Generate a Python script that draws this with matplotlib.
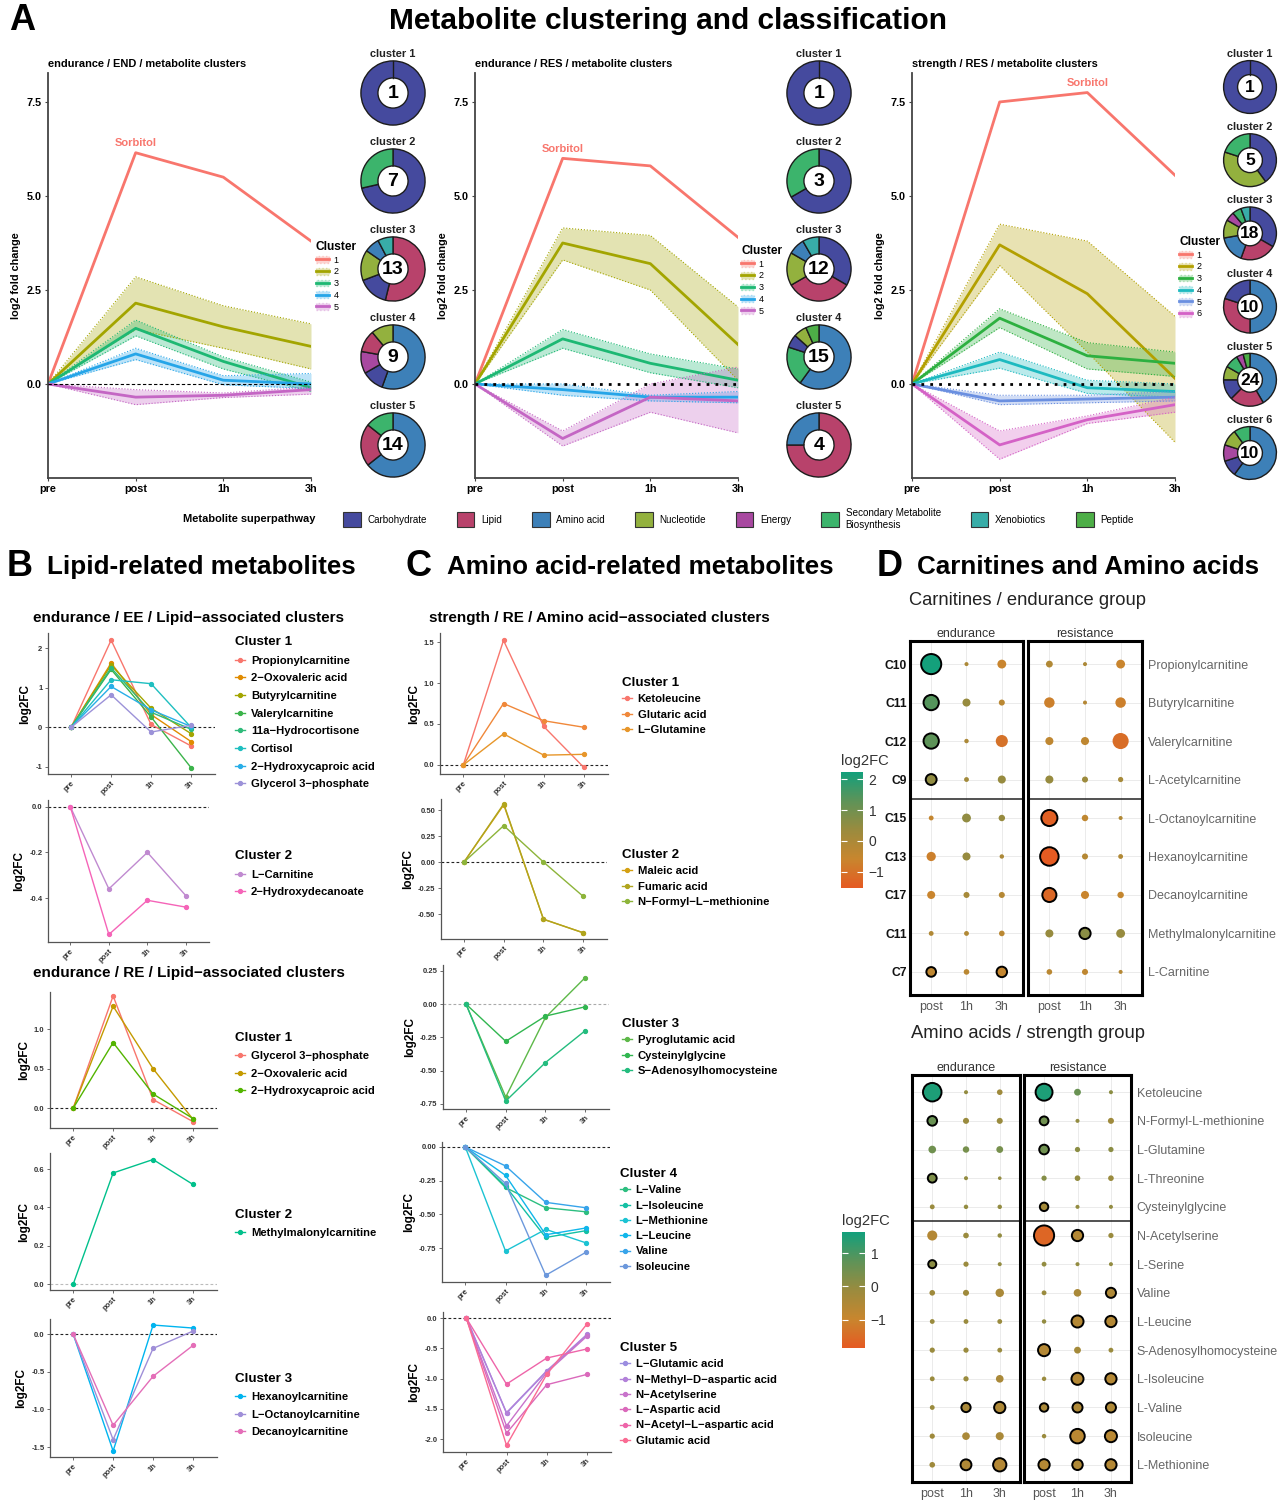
import matplotlib as mpl
from matplotlib import pyplot as plt
from matplotlib.patches import Patch
from matplotlib.lines import Line2D
from matplotlib.colors import LinearSegmentedColormap, Normalize
import numpy as np

plt.rcParams['font.family'] = ['Liberation Sans', 'DejaVu Sans']

# ---------------- data ----------------
times = ['pre', 'post', '1h', '3h']

# panel A: cluster means and ribbons (pre, post, 1h, 3h)
end_mean = [[0, 6.15, 5.5, 3.8], [0, 2.15, 1.52, 1.0], [0, 1.48, 0.6, -0.1],
            [0, 0.8, 0.1, 0.0], [0, -0.35, -0.3, -0.15]]
end_low = [None, [0, 1.45, 0.95, 0.4], [0, 1.28, 0.4, -0.2],
           [0, 0.65, -0.02, -0.12], [0, -0.55, -0.36, -0.27]]
end_high = [None, [0, 2.85, 2.08, 1.6], [0, 1.7, 0.72, 0.05],
            [0, 0.95, 0.22, 0.28], [0, -0.15, -0.24, -0.08]]

res_mean = [[0, 6.0, 5.8, 3.9], [0, 3.75, 3.2, 1.05], [0, 1.2, 0.55, 0.1],
            [0, -0.15, -0.35, -0.35], [0, -1.45, -0.35, -0.45]]
res_low = [None, [0, 3.3, 2.5, 0.1], [0, 0.95, 0.3, -0.1],
           [0, -0.3, -0.45, -0.5], [0, -1.65, -0.75, -1.3]]
res_high = [None, [0, 4.15, 3.95, 2.05], [0, 1.45, 0.8, 0.4],
            [0, 0.0, -0.3, -0.2], [0, -1.25, 0.0, 0.45]]

str_mean = [[0, 7.5, 7.75, 5.55], [0, 3.7, 2.4, 0.15], [0, 1.75, 0.75, 0.55],
            [0, 0.65, -0.1, -0.2], [0, -0.45, -0.4, -0.35], [0, -1.62, -0.95, -0.55]]
str_low = [None, [0, 3.15, 0.85, -1.55], [0, 1.5, 0.4, 0.2],
           [0, 0.42, -0.25, -0.35], [0, -0.55, -0.5, -0.45], [0, -2.0, -1.05, -0.75]]
str_high = [None, [0, 4.25, 3.8, 1.8], [0, 2.0, 1.1, 0.85],
            [0, 0.85, 0.1, 0.0], [0, -0.3, -0.3, -0.2], [0, -1.25, -0.85, -0.35]]

colors5 = ['#F8766D', '#A3A500', '#1DB873', '#26A5E8', '#C466C4']
colors6 = ['#F8766D', '#B3A000', '#2DB040', '#1DBAC0', '#6A8FE0', '#D462C6']

# superpathways
path_keys = ['carb', 'lipid', 'amino', 'nucl', 'energy', 'second', 'xeno', 'pept']
path_names = ['Carbohydrate', 'Lipid', 'Amino acid', 'Nucleotide', 'Energy',
              'Secondary Metabolite\nBiosynthesis', 'Xenobiotics', 'Peptide']
path_colors = ['#454A9E', '#B8426B', '#3D80B8', '#93B13E', '#A848A0',
               '#3CB46C', '#38ADA8', '#4DAE47']
path_color = dict(zip(path_keys, path_colors))

# donut composition per cluster (clockwise from 12 o'clock)
end_pies = [(['carb'], [1]),
            (['carb', 'second'], [5, 2]),
            (['lipid', 'carb', 'nucl', 'amino', 'xeno'], [7, 2, 2, 1, 1]),
            (['amino', 'carb', 'energy', 'lipid', 'nucl'], [5, 1, 1, 1, 1]),
            (['amino', 'lipid', 'second'], [9, 3, 2])]
res_pies = [(['carb'], [1]),
            (['carb', 'second'], [2, 1]),
            (['carb', 'lipid', 'nucl', 'amino', 'xeno'], [4, 4, 2, 1, 1]),
            (['amino', 'second', 'carb', 'nucl', 'pept'], [9, 3, 1, 1, 1]),
            (['lipid', 'amino'], [3, 1])]
str_pies = [(['carb'], [1]),
            (['carb', 'nucl', 'second'], [2, 2, 1]),
            (['carb', 'lipid', 'amino', 'nucl', 'energy', 'second', 'xeno'], [6, 4, 3, 2, 1, 1, 1]),
            (['amino', 'lipid', 'carb'], [5, 3, 2]),
            (['amino', 'lipid', 'carb', 'nucl', 'second', 'energy', 'pept'], [10, 5, 3, 2, 2, 1, 1]),
            (['amino', 'carb', 'energy', 'nucl', 'second'], [6, 1, 1, 1, 1])]

# panel B
b1_names = ['Propionylcarnitine', '2\u2212Oxovaleric acid', 'Butyrylcarnitine', 'Valerylcarnitine',
            '11a\u2212Hydrocortisone', 'Cortisol', '2\u2212Hydroxycaproic acid', 'Glycerol 3\u2212phosphate']
b1_values = [[0, 2.2, 0.07, -0.47], [0, 1.62, 0.32, -0.36], [0, 1.57, 0.48, -0.16],
             [0, 1.46, 0.26, -1.02], [0, 1.5, 0.38, -0.05], [0, 1.2, 1.1, 0.0],
             [0, 1.03, 0.44, 0.02], [0, 0.82, -0.12, 0.05]]
b1_colors = ['#F8766D', '#E08B00', '#A3A500', '#3BB34A', '#2EBB7A', '#1FBFC0', '#28AEE8', '#9C92D8']

b2_names = ['L\u2212Carnitine', '2\u2212Hydroxydecanoate']
b2_values = [[0, -0.36, -0.2, -0.39], [0, -0.56, -0.41, -0.44]]
b2_colors = ['#C08AD0', '#F564B8']

b3_names = ['Glycerol 3\u2212phosphate', '2\u2212Oxovaleric acid', '2\u2212Hydroxycaproic acid']
b3_values = [[0, 1.42, 0.11, -0.17], [0, 1.29, 0.5, -0.14], [0, 0.83, 0.18, -0.13]]
b3_colors = ['#F8766D', '#C49A00', '#53B400']

b4_names = ['Methylmalonylcarnitine']
b4_values = [[0, 0.58, 0.65, 0.52]]
b4_colors = ['#00C08B']

b5_names = ['Hexanoylcarnitine', 'L\u2212Octanoylcarnitine', 'Decanoylcarnitine']
b5_values = [[0, -1.55, 0.12, 0.08], [0, -1.4, -0.19, 0.04], [0, -1.21, -0.56, -0.15]]
b5_colors = ['#00B4EF', '#9F8FD8', '#E46EB8']

# panel C
c1_names = ['Ketoleucine', 'Glutaric acid', 'L\u2212Glutamine']
c1_values = [[0, 1.52, 0.47, -0.03], [0, 0.75, 0.54, 0.46], [0, 0.38, 0.12, 0.13]]
c1_colors = ['#F8766D', '#F0883A', '#E7962A']

c2_names = ['Maleic acid', 'Fumaric acid', 'N\u2212Formyl\u2212L\u2212methionine']
c2_values = [[0, 0.55, -0.55, -0.68], [0, 0.56, -0.55, -0.68], [0, 0.35, 0.0, -0.33]]
c2_colors = ['#D4A012', '#B0A51E', '#8DB43A']

c3_names = ['Pyroglutamic acid', 'Cysteinylglycine', 'S\u2212Adenosylhomocysteine']
c3_values = [[0, -0.7, -0.1, 0.2], [0, -0.28, -0.09, -0.02], [0, -0.73, -0.44, -0.2]]
c3_colors = ['#5DB848', '#31B650', '#23BC7E']

c4_names = ['L\u2212Valine', 'L\u2212Isoleucine', 'L\u2212Methionine', 'L\u2212Leucine', 'Valine', 'Isoleucine']
c4_values = [[0, -0.30, -0.45, -0.48], [0, -0.29, -0.67, -0.62], [0, -0.77, -0.61, -0.71],
             [0, -0.21, -0.65, -0.60], [0, -0.14, -0.41, -0.45], [0, -0.27, -0.95, -0.78]]
c4_colors = ['#2DBE80', '#14C0A4', '#1CC3D3', '#10B6EA', '#37A4EA', '#6C98DC']

c5_names = ['L\u2212Glutamic acid', 'N\u2212Methyl\u2212D\u2212aspartic acid', 'N\u2212Acetylserine',
            'L\u2212Aspartic acid', 'N\u2212Acetyl\u2212L\u2212aspartic acid', 'Glutamic acid']
c5_values = [[0, -1.57, -0.88, -0.28], [0, -1.56, -0.87, -0.27], [0, -1.78, -0.9, -0.3],
             [0, -1.9, -1.1, -0.93], [0, -1.09, -0.66, -0.51], [0, -2.1, -0.93, -0.1]]
c5_colors = ['#9B8DE0', '#B281D9', '#C873CB', '#DA69BB', '#EE65A9', '#FA6B93']

# panel D (columns: endurance post/1h/3h, resistance post/1h/3h)
carn_names = ['Propionylcarnitine', 'Butyrylcarnitine', 'Valerylcarnitine', 'L-Acetylcarnitine',
              'L-Octanoylcarnitine', 'Hexanoylcarnitine', 'Decanoylcarnitine',
              'Methylmalonylcarnitine', 'L-Carnitine']
carn_short = ['C10', 'C11', 'C12', 'C9', 'C15', 'C13', 'C17', 'C11', 'C7']
carn_fc = [[2.2, 0.0, -0.6, -0.1, 0.0, -0.6],
           [1.4, 0.4, -0.3, -0.7, -0.2, -0.7],
           [1.3, 0.0, -1.0, -0.4, -0.4, -1.1],
           [0.5, 0.2, 0.4, 0.4, 0.3, 0.1],
           [-0.5, 0.5, 0.4, -1.4, -0.4, -0.1],
           [-0.7, 0.4, 0.0, -1.5, -0.2, -0.1],
           [-0.6, 0.1, -0.2, -1.2, -0.6, -0.5],
           [-0.1, -0.1, -0.3, 0.4, 0.6, 0.4],
           [-0.4, -0.3, -0.5, -0.3, -0.4, -0.2]]
carn_size = [[5.0, 1.0, 2.2, 1.7, 1.0, 2.2],
             [3.8, 2.0, 1.5, 2.6, 1.0, 2.6],
             [3.8, 1.1, 3.0, 2.0, 2.0, 4.0],
             [2.7, 1.2, 2.0, 2.0, 1.5, 1.3],
             [1.2, 2.2, 1.6, 4.0, 1.6, 1.0],
             [2.3, 2.0, 1.1, 4.6, 1.5, 1.2],
             [2.0, 1.5, 1.5, 3.5, 2.0, 1.6],
             [1.2, 1.2, 1.4, 2.0, 2.8, 2.2],
             [2.4, 1.4, 2.6, 1.4, 1.5, 1.0]]
carn_sig = [[1, 0, 0, 0, 0, 0],
            [1, 0, 0, 0, 0, 0],
            [1, 0, 0, 0, 0, 0],
            [1, 0, 0, 0, 0, 0],
            [0, 0, 0, 1, 0, 0],
            [0, 0, 0, 1, 0, 0],
            [0, 0, 0, 1, 0, 0],
            [0, 0, 0, 0, 1, 0],
            [1, 0, 1, 0, 0, 0]]

amino_names = ['Ketoleucine', 'N-Formyl-L-methionine', 'L-Glutamine', 'L-Threonine',
               'Cysteinylglycine', 'N-Acetylserine', 'L-Serine', 'Valine', 'L-Leucine',
               'S-Adenosylhomocysteine', 'L-Isoleucine', 'L-Valine', 'Isoleucine', 'L-Methionine']
amino_fc = [[1.5, 0.0, -0.2, 1.5, 0.6, 0.1],
            [0.6, -0.1, -0.1, 0.5, 0.0, -0.2],
            [0.5, 0.4, 0.4, 0.5, 0.1, 0.1],
            [0.3, 0.0, 0.0, 0.2, 0.0, -0.1],
            [-0.1, 0.0, 0.0, -0.3, 0.0, 0.0],
            [-0.6, -0.1, 0.0, -1.6, -0.6, -0.1],
            [0.1, -0.1, 0.0, 0.0, 0.0, 0.0],
            [-0.2, -0.2, -0.4, -0.1, -0.4, -0.5],
            [-0.1, -0.1, -0.1, 0.0, -0.6, -0.6],
            [-0.1, -0.1, -0.1, -0.6, -0.3, -0.1],
            [-0.1, -0.1, -0.4, -0.1, -0.6, -0.6],
            [-0.1, -0.4, -0.5, -0.4, -0.5, -0.5],
            [-0.2, -0.4, -0.4, -0.1, -0.7, -0.7],
            [-0.2, -0.5, -0.6, -0.6, -0.5, -0.6]]
amino_size = [[4.6, 1.0, 1.4, 4.2, 1.7, 1.0],
              [2.4, 1.5, 1.5, 2.2, 1.0, 1.5],
              [1.9, 1.6, 1.7, 2.4, 1.3, 1.3],
              [2.2, 1.0, 0.9, 1.3, 1.4, 1.4],
              [1.2, 1.1, 1.1, 2.1, 1.0, 1.0],
              [2.5, 1.4, 1.1, 5.0, 2.8, 1.3],
              [2.0, 1.3, 1.0, 1.2, 1.0, 1.0],
              [1.4, 1.5, 2.1, 1.2, 1.9, 2.5],
              [1.2, 1.2, 1.2, 1.1, 3.0, 2.8],
              [1.3, 1.3, 1.2, 3.0, 1.7, 1.2],
              [1.2, 1.3, 1.9, 1.1, 3.0, 2.8],
              [1.2, 2.3, 2.8, 2.1, 2.5, 2.5],
              [1.3, 1.9, 2.0, 1.1, 3.6, 3.0],
              [1.4, 2.7, 3.3, 2.8, 2.6, 2.8]]
amino_sig = [[1, 0, 0, 1, 0, 0],
             [1, 0, 0, 1, 0, 0],
             [0, 0, 0, 1, 0, 0],
             [1, 0, 0, 0, 0, 0],
             [0, 0, 0, 1, 0, 0],
             [0, 0, 0, 1, 1, 0],
             [1, 0, 0, 0, 0, 0],
             [0, 0, 0, 0, 0, 1],
             [0, 0, 0, 0, 1, 1],
             [0, 0, 0, 1, 0, 0],
             [0, 0, 0, 0, 1, 1],
             [0, 1, 1, 1, 1, 1],
             [0, 0, 0, 0, 1, 1],
             [0, 1, 1, 1, 1, 1]]

# ---------------- layout helpers ----------------
W, H = 1278, 1501
fig = plt.figure(figsize=(W / 100, H / 100), dpi=100)


def box(l, t, r, b):
    return [l / W, 1 - b / H, (r - l) / W, (b - t) / H]


def ftext(x, y, s, **kw):
    return fig.text(x / W, 1 - y / H, s, **kw)


def cluster_panel(rect, title, means, lows, highs, colors, sorb_x, zero_ls, zero_lw, leg_xy):
    ax = fig.add_axes(box(*rect))
    x = np.arange(4)
    for m, lo, hi, c in zip(means, lows, highs, colors):
        if lo is not None:
            ax.fill_between(x, lo, hi, color=c, alpha=0.3, lw=0)
            ax.plot(x, lo, color=c, ls=':', lw=0.8)
            ax.plot(x, hi, color=c, ls=':', lw=0.8)
        ax.plot(x, m, color=c, lw=2)
    ax.axhline(0, color='black', ls=zero_ls, lw=zero_lw, zorder=5)
    ax.text(sorb_x, means[0][sorb_x] + 0.12, 'Sorbitol', color=colors[0], fontsize=8,
            fontweight='bold', ha='center', va='bottom')
    ax.set_xlim(0, 3)
    ax.set_ylim(-2.5, 8.27)
    ax.set_xticks(x, times, fontsize=7.8, fontweight='bold')
    ax.set_yticks([0, 2.5, 5, 7.5], ['0.0', '2.5', '5.0', '7.5'], fontsize=7.8, fontweight='bold')
    ax.set_ylabel('log2 fold change', fontsize=7.8, fontweight='bold', labelpad=4)
    ax.set_title(title, loc='left', fontsize=7.9, fontweight='bold', pad=4)
    for s in ['top', 'right']:
        ax.spines[s].set_visible(False)
    for s in ['left', 'bottom']:
        ax.spines[s].set_color('#444')
        ax.spines[s].set_linewidth(1.3)
    ax.tick_params(length=2.5, width=0.8, color='#444', pad=2)
    handles = [(Patch(facecolor=c, alpha=0.3, edgecolor=c, linestyle=':'),
                Line2D([], [], color=c, lw=2)) for c in colors]
    fig.legend(handles, [str(i + 1) for i in range(len(colors))], loc='upper left',
               title='Cluster', bbox_to_anchor=(leg_xy[0] / W, 1 - leg_xy[1] / H),
               frameon=False, prop={'size': 6.5},
               title_fontproperties={'size': 8.6, 'weight': 'bold'}, alignment='left',
               handlelength=1.45, handleheight=0.8, handletextpad=0.5, labelspacing=0.3,
               borderpad=0, borderaxespad=0)
    return ax


def donut(cx, cy, r, keys, counts, label, numsize):
    ax = fig.add_axes(box(cx - r - 2, cy - r - 2, cx + r + 2, cy + r + 2))
    ax.pie(counts, colors=[path_color[k] for k in keys], startangle=90, counterclock=False,
           radius=1, wedgeprops=dict(width=0.53, edgecolor='#1c1c1c', linewidth=1.0))
    if len(counts) == 1:
        ax.plot([0, 0], [0.47, 1], color='#1c1c1c', lw=1.0)
    ax.text(0, -0.02, str(sum(counts)), ha='center', va='center', fontsize=numsize, fontweight='bold')
    ax.set_xlim(-1.06, 1.06)
    ax.set_ylim(-1.06, 1.06)
    ax.set_aspect('equal')
    ax.axis('off')
    ftext(cx, cy - r - 7, label, ha='center', va='center', fontsize=7.9, fontweight='bold', color='#222')


def line_panel(rect, ylim, yticks, ylabels, names, values, colors, title, leg_xy, spacing,
               zero_color='#222'):
    ax = fig.add_axes(box(*rect))
    x = np.arange(4)
    ax.axhline(0, color=zero_color, ls=(0, (2.5, 2)), lw=0.8, zorder=1)
    for v, c in zip(values, colors):
        ax.plot(x, v, '-o', color=c, lw=1.0, ms=2.8, zorder=3)
    ax.set_xlim(-0.58, 3.6)
    ax.set_ylim(*ylim)
    ax.set_xticks(x)
    ax.set_xticklabels(times, rotation=45, ha='right', rotation_mode='anchor',
                       fontsize=5.5, fontweight='bold', color='#333')
    ax.set_yticks(yticks)
    ax.set_yticklabels(ylabels, fontsize=5.5, fontweight='bold', color='#333')
    ax.set_ylabel('log2FC', fontsize=8.5, fontweight='bold', labelpad=3)
    for s in ['top', 'right']:
        ax.spines[s].set_visible(False)
    for s in ['left', 'bottom']:
        ax.spines[s].set_color('#555')
        ax.spines[s].set_linewidth(0.9)
    ax.tick_params(length=2, width=0.6, color='#555', pad=2)
    handles = [Line2D([], [], color=c, marker='o', ms=2.8, lw=1.0) for c in colors]
    fig.legend(handles, names, title=title, loc='upper left',
               bbox_to_anchor=(leg_xy[0] / W, 1 - leg_xy[1] / H), frameon=False,
               prop={'size': 8.1, 'weight': 'bold'},
               title_fontproperties={'size': 9.6, 'weight': 'bold'}, alignment='left',
               handlelength=0.9, handletextpad=0.5, labelspacing=spacing,
               borderpad=0, borderaxespad=0)
    return ax


cmap = LinearSegmentedColormap.from_list('fc', ['#E55A22', '#C8862E', '#9A8B3E', '#5E9358', '#12A07C'])


def dot_panel(rects, names, fc, size, sig, split, norm, left_names=None):
    n = len(names)
    fc = np.array(fc)
    size = np.array(size)
    sig = np.array(sig)
    xx, yy = np.meshgrid(np.arange(3), np.arange(n))
    for k, (rect, lab) in enumerate(zip(rects, ['endurance', 'resistance'])):
        ax = fig.add_axes(box(*rect))
        cols = slice(3 * k, 3 * k + 3)
        edges = ['black' if s else 'none' for s in sig[:, cols].ravel()]
        ax.scatter(xx.ravel(), yy.ravel(), s=8.4 * size[:, cols].ravel() ** 2,
                   c=fc[:, cols].ravel(), cmap=cmap, norm=norm, edgecolors=edges,
                   linewidths=1.4, zorder=3)
        ax.axhline(split, color='#222', lw=1.1, zorder=2)
        ax.set_xlim(-0.6, 2.6)
        ax.set_ylim(n - 1 + 0.6, -0.6)
        ax.set_xticks(range(3), ['post', '1h', '3h'], fontsize=9, color='#555')
        ax.set_yticks(range(n))
        ax.grid(color='#ebebeb', lw=0.7)
        ax.set_axisbelow(True)
        for s in ax.spines.values():
            s.set_linewidth(2.2)
            s.set_color('black')
        ax.tick_params(length=0, pad=4)
        ax.set_title(lab, fontsize=9, color='#333', pad=3)
        if k == 0:
            if left_names is not None:
                ax.set_yticklabels(left_names, fontsize=8.7, fontweight='bold', color='#111')
                ax.tick_params(axis='y', pad=2)
            else:
                ax.set_yticklabels([])
        else:
            ax.yaxis.tick_right()
            ax.set_yticklabels(names, fontsize=9, color='#666')


def colorbar(rect, norm, ticks):
    cax = fig.add_axes(box(*rect))
    cb = fig.colorbar(mpl.cm.ScalarMappable(norm=norm, cmap=cmap), cax=cax)
    cb.set_ticks(ticks)
    cb.outline.set_visible(False)
    cax.tick_params(direction='in', color='white', length=4, width=0.8, labelsize=10,
                    labelcolor='#333', pad=4, left=True)
    cax.set_title('log2FC', loc='left', fontsize=10.6, color='#333', pad=5)


# ---------------- panel A ----------------
ftext(9, 21, 'A', fontsize=26, fontweight='bold', va='center')
ftext(668, 21, 'Metabolite clustering and classification', fontsize=21.5, fontweight='bold',
      ha='center', va='center')

cluster_panel((48, 73, 311, 478), 'endurance / END / metabolite clusters', end_mean, end_low,
              end_high, colors5, 1, (0, (3, 2)), 0.8, (316, 241))
cluster_panel((475, 73, 738, 478), 'endurance / RES / metabolite clusters', res_mean, res_low,
              res_high, colors5, 1, (0, (1, 2.2)), 2.0, (741, 245))
cluster_panel((912, 73, 1175, 478), 'strength / RES / metabolite clusters', str_mean, str_low,
              str_high, colors6, 2, (0, (1, 2.2)), 2.0, (1179, 236))

for i, (keys, counts) in enumerate(end_pies):
    donut(393, 93 + 88 * i, 32, keys, counts, 'cluster %d' % (i + 1), 14)
for i, (keys, counts) in enumerate(res_pies):
    donut(819, 93 + 88 * i, 32, keys, counts, 'cluster %d' % (i + 1), 14)
for i, (keys, counts) in enumerate(str_pies):
    donut(1250, 87 + 73.2 * i, 26, keys, counts, 'cluster %d' % (i + 1), 12.5)

ftext(183, 519, 'Metabolite superpathway', fontsize=7.9, fontweight='bold', va='center')
fig.legend([Patch(facecolor=c, edgecolor='#333', lw=0.8) for c in path_colors], path_names,
           loc='center left', bbox_to_anchor=(343 / W, 1 - 519 / H), ncol=8, frameon=False,
           fontsize=7.1, handlelength=1.8, handleheight=2.0, handletextpad=0.7,
           columnspacing=3.0, borderpad=0, borderaxespad=0)

# ---------------- panel B ----------------
ftext(7, 567, 'B', fontsize=26, fontweight='bold', va='center')
ftext(47, 567, 'Lipid-related metabolites', fontsize=18.7, fontweight='bold', va='center')
ftext(33, 618, 'endurance / EE / Lipid\u2212associated clusters', fontsize=11, fontweight='bold',
      va='center')
ftext(33, 973, 'endurance / RE / Lipid\u2212associated clusters', fontsize=11, fontweight='bold',
      va='center')

line_panel((48, 633, 215, 774), (-1.18, 2.38), [-1, 0, 1, 2], ['-1', '0', '1', '2'],
           b1_names, b1_values, b1_colors, 'Cluster 1', (235, 636), 0.68)
line_panel((48, 800, 209, 942), (-0.593, 0.03), [-0.4, -0.2, 0.0], ['-0.4', '-0.2', '0.0'],
           b2_names, b2_values, b2_colors, 'Cluster 2', (235, 850), 0.68)
line_panel((50, 992, 217, 1128), (-0.25, 1.47), [0, 0.5, 1.0], ['0.0', '0.5', '1.0'],
           b3_names, b3_values, b3_colors, 'Cluster 1', (235, 1032), 0.65)
line_panel((50, 1153, 217, 1290), (-0.03, 0.684), [0, 0.2, 0.4, 0.6], ['0.0', '0.2', '0.4', '0.6'],
           b4_names, b4_values, b4_colors, 'Cluster 2', (235, 1209), 0.65, zero_color='#bbb')
line_panel((50, 1319, 217, 1457), (-1.63, 0.2), [-1.5, -1.0, -0.5, 0.0],
           ['-1.5', '-1.0', '-0.5', '0.0'], b5_names, b5_values, b5_colors, 'Cluster 3',
           (235, 1373), 0.65)

# ---------------- panel C ----------------
ftext(406, 567, 'C', fontsize=26, fontweight='bold', va='center')
ftext(447, 567, 'Amino acid-related metabolites', fontsize=18.7, fontweight='bold', va='center')
ftext(429, 618, 'strength / RE / Amino acid\u2212associated clusters', fontsize=11,
      fontweight='bold', va='center')

line_panel((440, 633, 608, 774), (-0.11, 1.61), [0, 0.5, 1.0, 1.5], ['0.0', '0.5', '1.0', '1.5'],
           c1_names, c1_values, c1_colors, 'Cluster 1', (622, 677), 0.47)
line_panel((441, 799, 607, 939), (-0.74, 0.606), [-0.5, -0.25, 0, 0.25, 0.5],
           ['-0.50', '-0.25', '0.00', '0.25', '0.50'], c2_names, c2_values, c2_colors,
           'Cluster 2', (622, 849), 0.47)
line_panel((443, 965, 609, 1109), (-0.79, 0.295), [-0.75, -0.5, -0.25, 0, 0.25],
           ['-0.75', '-0.50', '-0.25', '0.00', '0.25'], c3_names, c3_values, c3_colors,
           'Cluster 3', (622, 1018), 0.47, zero_color='#aaa')
line_panel((442, 1142, 610, 1282), (-1.0, 0.037), [-0.75, -0.5, -0.25, 0],
           ['-0.75', '-0.50', '-0.25', '0.00'], c4_names, c4_values, c4_colors,
           'Cluster 4', (620, 1168), 0.47)
line_panel((443, 1312, 611, 1452), (-2.21, 0.1), [-2, -1.5, -1, -0.5, 0],
           ['-2.0', '-1.5', '-1.0', '-0.5', '0.0'], c5_names, c5_values, c5_colors,
           'Cluster 5', (620, 1342), 0.47)

# ---------------- panel D ----------------
ftext(877, 567, 'D', fontsize=26, fontweight='bold', va='center')
ftext(917, 567, 'Carnitines and Amino acids', fontsize=18.7, fontweight='bold', va='center')
ftext(909, 600, 'Carnitines / endurance group', fontsize=13.2, va='center', color='#222')
ftext(911, 1034, 'Amino acids / strength group', fontsize=13.2, va='center', color='#222')

norm1 = Normalize(-1.52, 2.23)
dot_panel([(910, 641, 1023, 995), (1028, 641, 1142, 995)], carn_names, carn_fc, carn_size,
          carn_sig, 3.5, norm1, left_names=carn_short)
colorbar((841, 772, 863, 888), norm1, [-1, 0, 1, 2])

norm2 = Normalize(-1.84, 1.63)
dot_panel([(912, 1075, 1020, 1482), (1024, 1075, 1131, 1482)], amino_names, amino_fc,
          amino_size, amino_sig, 4.5, norm2)
colorbar((842, 1232, 865, 1348), norm2, [-1, 0, 1])

fig.savefig('out.png', dpi=100)
